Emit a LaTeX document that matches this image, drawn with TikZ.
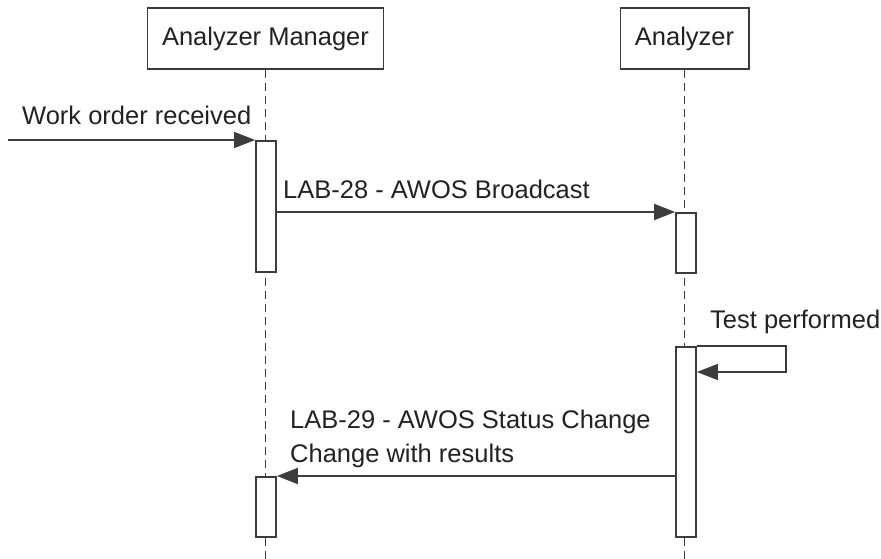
\documentclass[tikz,border=0pt]{standalone}
\usepackage{fontspec}
\setmainfont{Liberation Sans}
\usetikzlibrary{arrows.meta}
\definecolor{linegray}{HTML}{3C3C3C}
\definecolor{textgray}{HTML}{222222}
\tikzset{
    actor-box/.style = {draw=linegray, fill=white, line width=1.8pt, rectangle, minimum height=61pt, inner xsep=14.5pt, font=\fontsize{25.5}{34}\selectfont, text=textgray},
    life-line/.style = {draw=linegray, line width=1.8pt, dash pattern=on 8pt off 5pt},
    act-box/.style = {draw=linegray, fill=white, line width=1.8pt, rectangle, minimum width=20pt, inner sep=0pt, anchor=north},
    msg/.style = {draw=linegray, line width=1.8pt, -{Triangle[length=21pt,width=16pt]}},
    msg-label/.style = {anchor=base west, inner sep=0pt, align=left, font=\fontsize{25.5}{34}\selectfont, text=textgray},
}

\begin{document}
\begin{tikzpicture}[x=1pt, y=-1pt]
\useasboundingbox (0,0) rectangle (881,559);

% participants
\node [actor-box] (manager) at (265.5,38.5) {Analyzer Manager};
\node [actor-box] (analyzer) at (684.5,38.5) {Analyzer};

\coordinate (manager-end) at (manager.south |- 0,559);
\coordinate (analyzer-end) at (analyzer.south |- 0,559);
\draw [life-line] (manager.south) -- (manager-end);
\draw [life-line] (analyzer.south) -- (analyzer-end);

% activations
\node [act-box, minimum height=131pt] (act-1) at (266,140) {};
\node [act-box, minimum height=60pt] (act-2) at (686,212) {};
\node [act-box, minimum height=190pt] (act-3) at (686,346) {};
\node [act-box, minimum height=60pt] (act-4) at (266,476) {};

% messages
\coordinate (wo-start) at (8,140);
\draw [msg] (wo-start) -- (act-1.north west);
\node [msg-label] (wo-label) at (22,125) {Work order received};

\draw [msg] (act-1.east |- act-2.north) -- (act-2.north west);
\node [msg-label] (lab28-label) at (283,198) {LAB-28 - AWOS Broadcast};

\coordinate (loop-a) at (786,346);
\coordinate (loop-b) at (786,372);
\draw [msg] (act-3.north east) -- (loop-a) -- (loop-b) -- (act-3.east |- loop-b);
\node [msg-label] (test-label) at (710,328) {Test performed};

\draw [msg] (act-3.west |- act-4.north) -- (act-4.north east);
\node [msg-label] (lab29-label) at (290,462) {LAB-29 - AWOS Status Change\\Change with results};
\end{tikzpicture}
\end{document}
